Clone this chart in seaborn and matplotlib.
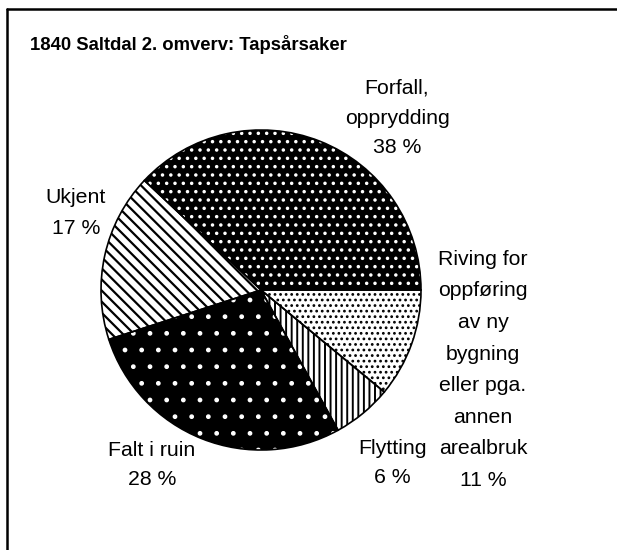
import matplotlib
matplotlib.use("Agg")
import matplotlib.pyplot as plt
import seaborn as sns

# ---- data ----
categories = ["Forfall,\nopprydding", "Ukjent", "Falt i ruin", "Flytting",
              "Riving for\noppføring\nav ny\nbygning\neller pga.\nannen\narealbruk"]
values = [38, 17, 28, 6, 11]
title = "1840 Saltdal 2. omverv: Tapsårsaker"

# ---- style ----
sns.set_theme(style="white")
plt.rcParams["font.family"] = ["Liberation Sans", "DejaVu Sans"]
plt.rcParams["hatch.linewidth"] = 1.3

faces = ["black", "white", "black", "white", "white"]
hatch_cols = ["white", "black", "white", "black", "black"]
hatches = ["..", "\\\\\\", ".", "|||", "..."]
hatch_lw = [1.3, 1.6, 1.0, 1.4, 1.2]

W, H = 617, 550
fig = plt.figure(figsize=(W / 100, H / 100), dpi=100)
fig.patch.set_facecolor("white")

cx, cy, R = 261, 290, 160
ax = fig.add_axes([(cx - R) / W, (H - cy - R) / H, 2 * R / W, 2 * R / H])

# filled + hatched wedges (hatch colour comes from edgecolor)
wedges, _ = ax.pie(values, startangle=0, counterclock=True, radius=1,
                   colors=faces)
for w, hc, ht, hl in zip(wedges, hatch_cols, hatches, hatch_lw):
    w.set_edgecolor(hc)
    w.set_hatch(ht)
    w.set_linewidth(0)
    if hasattr(w, "set_hatch_linewidth"):
        w.set_hatch_linewidth(hl)

# outlines
ax.pie(values, startangle=0, counterclock=True, radius=1,
       colors=["none"] * len(values),
       wedgeprops=dict(edgecolor="black", linewidth=1.2, fill=False))

ax.set_xlim(-1, 1)
ax.set_ylim(-1, 1)
ax.set_aspect("equal")
ax.axis("off")


def to_data(px, py):
    return ((px - cx) / R, (cy - py) / R)


label_pos = [(397, 118), (76, 213), (152, 465), (392, 463), (483, 370)]
label_ls = [1.72, 1.75, 1.72, 1.72, 1.84]
for cat, v, (px, py), ls in zip(categories, values, label_pos, label_ls):
    x, y = to_data(px, py)
    ax.text(x, y, f"{cat}\n{v} %", ha="center", va="center",
            fontsize=15.3, color="black", linespacing=ls, clip_on=False)

fig.text(30 / W, 1 - 44 / H, title, ha="left", va="center",
         fontsize=13.3, fontweight="bold", color="black")

# outer frame (top and left edges visible)
fig.add_artist(plt.Line2D([7 / W, 1.0], [1 - 9 / H, 1 - 9 / H],
                          transform=fig.transFigure, color="black", lw=1.8))
fig.add_artist(plt.Line2D([7 / W, 7 / W], [1 - 9 / H, 0.0],
                          transform=fig.transFigure, color="black", lw=1.8))

fig.savefig("out.png", dpi=100, facecolor="white")
